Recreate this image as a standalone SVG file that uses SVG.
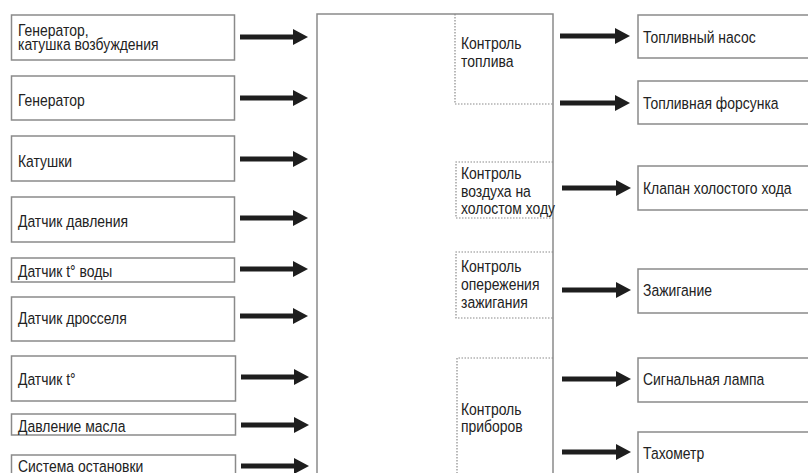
<svg xmlns="http://www.w3.org/2000/svg" width="808" height="473" viewBox="0 0 808 473">
<style>
.box{fill:#fff;stroke:#8a8a8a;stroke-width:1.5}
.dot{fill:none;stroke:#8a8a8a;stroke-width:1.2;stroke-dasharray:1.5 1.5}
.t{font-family:"Liberation Sans",Arial,sans-serif;font-size:17px;fill:#222}
.arr{stroke:#1e1e1e;stroke-width:5;fill:none}
</style>
<defs>
<marker id="ah" markerUnits="userSpaceOnUse" markerWidth="15" markerHeight="16" refX="1" refY="8" orient="auto" viewBox="0 0 15 16">
<path d="M0,0 L15,8 L0,16 z" fill="#1e1e1e"/>
</marker>
</defs>
<rect width="808" height="473" fill="#fff"/>

<g id="ecu">
<rect class="box" x="317" y="14" width="236" height="480"/>
<path class="dot" d="M455,14 V104 H553"/>
<text class="t" transform="matrix(0.82 0 0 1 461 49)">Контроль</text>
<text class="t" transform="matrix(0.82 0 0 1 461 67)">топлива</text>
</g>
<g id="ctl-air">
<path class="dot" d="M553,162 H456 V218 H553"/>
<text class="t" transform="matrix(0.82 0 0 1 461 179)">Контроль</text>
<text class="t" transform="matrix(0.82 0 0 1 461 197)">воздуха на</text>
<text class="t" transform="matrix(0.82 0 0 1 461 214)">холостом ходу</text>
</g>
<g id="ctl-ign">
<path class="dot" d="M553,252 H456 V318 H553"/>
<text class="t" transform="matrix(0.82 0 0 1 461 272)">Контроль</text>
<text class="t" transform="matrix(0.82 0 0 1 461 290)">опережения</text>
<text class="t" transform="matrix(0.82 0 0 1 461 308)">зажигания</text>
</g>
<g id="ctl-instr">
<path class="dot" d="M553,358 H457 V480"/>
<text class="t" transform="matrix(0.82 0 0 1 461 415)">Контроль</text>
<text class="t" transform="matrix(0.82 0 0 1 461 432)">приборов</text>
</g>

<g id="in1"><rect class="box" x="11.5" y="15" width="223" height="45"/><text class="t" transform="matrix(0.82 0 0 1 18 36)">Генератор,</text><text class="t" transform="matrix(0.82 0 0 1 18 50)">катушка возбуждения</text></g>
<g id="in2"><rect class="box" x="11.5" y="76" width="223" height="44"/><text class="t" transform="matrix(0.82 0 0 1 18 106)">Генератор</text></g>
<g id="in3"><rect class="box" x="11.5" y="136" width="223" height="45"/><text class="t" transform="matrix(0.82 0 0 1 18 167)">Катушки</text></g>
<g id="in4"><rect class="box" x="11.5" y="197" width="223" height="45"/><text class="t" transform="matrix(0.82 0 0 1 18 227)">Датчик давления</text></g>
<g id="in5"><rect class="box" x="11.5" y="258" width="223" height="24"/><text class="t" transform="matrix(0.82 0 0 1 18 277)">Датчик t° воды</text></g>
<g id="in6"><rect class="box" x="11.5" y="297" width="223" height="44"/><text class="t" transform="matrix(0.82 0 0 1 18 324)">Датчик дросселя</text></g>
<g id="in7"><rect class="box" x="11.5" y="356" width="224" height="45"/><text class="t" transform="matrix(0.82 0 0 1 18 385)">Датчик t°</text></g>
<g id="in8"><rect class="box" x="11.5" y="414" width="224" height="21"/><text class="t" transform="matrix(0.82 0 0 1 18 432)">Давление масла</text></g>
<g id="in9"><rect class="box" x="11.5" y="455" width="224" height="30"/><text class="t" transform="matrix(0.82 0 0 1 18 472)">Система остановки</text></g>

<g id="out1"><rect class="box" x="638" y="15" width="180" height="43"/><text class="t" transform="matrix(0.82 0 0 1 643 43)">Топливный насос</text></g>
<g id="out2"><rect class="box" x="638" y="81" width="180" height="43"/><text class="t" transform="matrix(0.82 0 0 1 643 109)">Топливная форсунка</text></g>
<g id="out3"><rect class="box" x="638" y="166" width="180" height="44"/><text class="t" transform="matrix(0.82 0 0 1 643 194)">Клапан холостого хода</text></g>
<g id="out4"><rect class="box" x="638" y="269" width="180" height="44"/><text class="t" transform="matrix(0.82 0 0 1 643 296)">Зажигание</text></g>
<g id="out5"><rect class="box" x="638" y="358" width="180" height="44"/><text class="t" transform="matrix(0.82 0 0 1 643 385)">Сигнальная лампа</text></g>
<g id="out6"><rect class="box" x="638" y="432" width="180" height="50"/><text class="t" transform="matrix(0.82 0 0 1 643 459)">Тахометр</text></g>

<g id="connectors">
<line class="arr" x1="240" y1="37" x2="294" y2="37" marker-end="url(#ah)"/>
<line class="arr" x1="240" y1="98" x2="294" y2="98" marker-end="url(#ah)"/>
<line class="arr" x1="240" y1="159" x2="294" y2="159" marker-end="url(#ah)"/>
<line class="arr" x1="240" y1="218" x2="294" y2="218" marker-end="url(#ah)"/>
<line class="arr" x1="240" y1="269" x2="294" y2="269" marker-end="url(#ah)"/>
<line class="arr" x1="240" y1="316" x2="294" y2="316" marker-end="url(#ah)"/>
<line class="arr" x1="241" y1="377" x2="295" y2="377" marker-end="url(#ah)"/>
<line class="arr" x1="241" y1="425" x2="295" y2="425" marker-end="url(#ah)"/>
<line class="arr" x1="241" y1="466" x2="295" y2="466" marker-end="url(#ah)"/>
<line class="arr" x1="560" y1="36" x2="616" y2="36" marker-end="url(#ah)"/>
<line class="arr" x1="560" y1="103" x2="616" y2="103" marker-end="url(#ah)"/>
<line class="arr" x1="562" y1="188" x2="617" y2="188" marker-end="url(#ah)"/>
<line class="arr" x1="562" y1="290" x2="617" y2="290" marker-end="url(#ah)"/>
<line class="arr" x1="562" y1="379" x2="617" y2="379" marker-end="url(#ah)"/>
<line class="arr" x1="562" y1="452" x2="617" y2="452" marker-end="url(#ah)"/>
</g>
</svg>
